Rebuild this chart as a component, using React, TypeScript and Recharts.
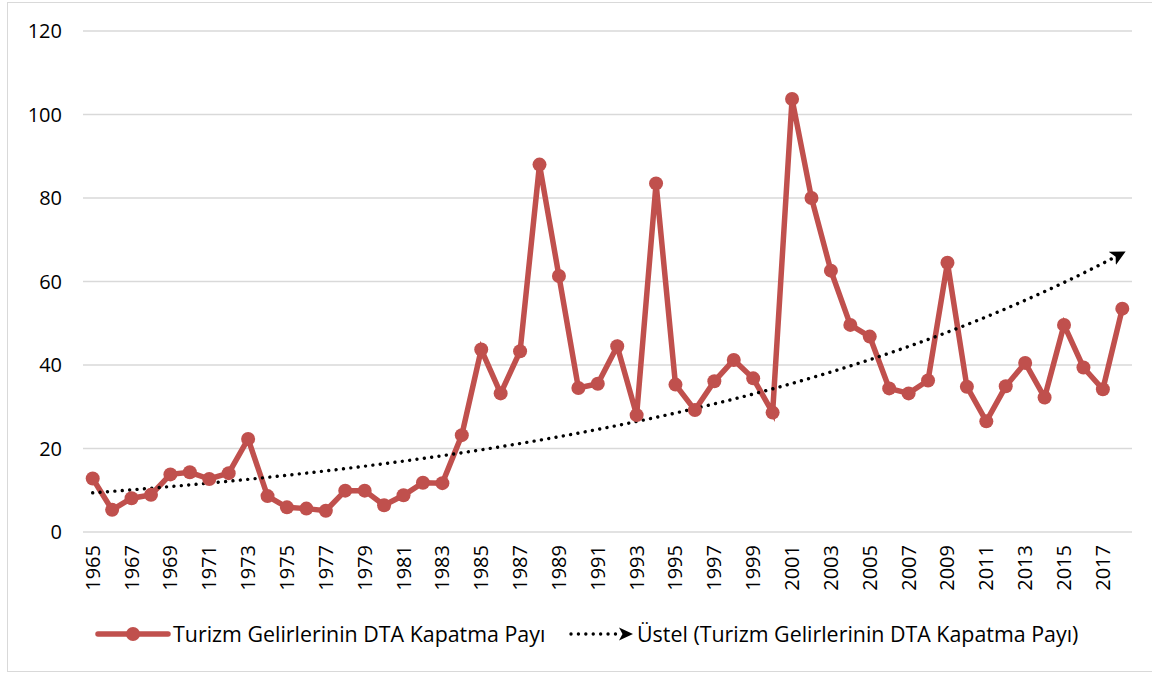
import { ComposedChart, Line, XAxis, YAxis, CartesianGrid } from 'recharts';

const years = [
    1965, 1966, 1967, 1968, 1969, 1970, 1971, 1972, 1973, 1974, 1975, 1976, 1977, 1978, 1979, 1980, 1981, 1982,
    1983, 1984, 1985, 1986, 1987, 1988, 1989, 1990, 1991, 1992, 1993, 1994, 1995, 1996, 1997, 1998, 1999, 2000,
    2001, 2002, 2003, 2004, 2005, 2006, 2007, 2008, 2009, 2010, 2011, 2012, 2013, 2014, 2015, 2016, 2017, 2018,
];

const payValues = [
    12.8, 5.3, 8.1, 8.9, 13.8, 14.3, 12.7, 14.1, 22.3, 8.6, 5.9, 5.6, 5.1, 9.9, 9.9, 6.4, 8.8, 11.8,
    11.7, 23.2, 43.7, 33.2, 43.3, 88.0, 61.3, 34.5, 35.5, 44.5, 28.0, 83.5, 35.3, 29.2, 36.1, 41.2, 36.8, 28.6,
    103.7, 80.0, 62.6, 49.6, 46.8, 34.4, 33.2, 36.3, 64.5, 34.8, 26.5, 34.9, 40.5, 32.2, 49.6, 39.4, 34.2, 53.5,
];

const yTicks = [0, 20, 40, 60, 80, 100, 120];

const seriesName = 'Turizm Gelirlerinin DTA Kapatma Payı';
const trendName = 'Üstel (Turizm Gelirlerinin DTA Kapatma Payı)';

// exponential trend line (least squares on ln y), like the spreadsheet one
function expFit(vals: number[]) {
    const n = vals.length;
    let sx = 0, sy = 0, sxx = 0, sxy = 0;
    vals.forEach((v, i) => {
        const ly = Math.log(v);
        sx += i;
        sy += ly;
        sxx += i * i;
        sxy += i * ly;
    });
    const b = (n * sxy - sx * sy) / (n * sxx - sx * sx);
    const a = (sy - b * sx) / n;
    return vals.map((_, i) => Math.exp(a + b * i));
}

const trendValues = expFit(payValues);

const chartData = years.map((year, i) => ({
    year: String(year),
    pay: payValues[i],
    trend: trendValues[i],
}));

const FONT = '"Open Sans", sans-serif';
const RED = '#C0504D';

function YearTick(props: any) {
    const { x, y, payload } = props;
    return (
        <text
            x={x + 7}
            y={y + 5}
            transform={`rotate(-90, ${x + 7}, ${y + 5})`}
            textAnchor="end"
            fontSize={20}
            fontFamily={FONT}
            fill="#000"
        >
            {payload.value}
        </text>
    );
}

export default function App() {
    return (
        <div style={{ position: 'absolute', left: 0, top: 0, width: 1152, height: 675, background: '#fff' }}>
            <div
                style={{
                    position: 'absolute',
                    left: 7,
                    top: 2,
                    width: 1150,
                    height: 670,
                    border: '1px solid #d9d9d9',
                    boxSizing: 'border-box',
                }}
            />
            <ComposedChart width={1152} height={675} data={chartData} margin={{ top: 31, right: 20, bottom: 0, left: 0 }}>
                <defs>
                    <marker
                        id="trendArrow"
                        viewBox="0 0 12 12"
                        refX="9"
                        refY="6"
                        markerWidth="15"
                        markerHeight="15"
                        markerUnits="userSpaceOnUse"
                        orient="auto"
                    >
                        <path d="M0,0 L12,6 L0,12 L3,6 Z" fill="#000" />
                    </marker>
                </defs>
                <CartesianGrid vertical={false} stroke="#d9d9d9" strokeWidth={1.5} />
                <XAxis
                    dataKey="year"
                    interval={1}
                    axisLine={false}
                    tickLine={false}
                    height={143}
                    padding={{ left: 9.7, right: 9.7 }}
                    tick={<YearTick />}
                />
                <YAxis
                    domain={[0, 120]}
                    ticks={yTicks}
                    axisLine={false}
                    tickLine={false}
                    width={83}
                    tickMargin={15}
                    tick={{ fill: '#000', fontSize: 20, fontFamily: FONT }}
                />
                <Line
                    dataKey="pay"
                    type="linear"
                    stroke={RED}
                    strokeWidth={5.5}
                    dot={{ r: 7, fill: RED, stroke: 'none' }}
                    activeDot={false}
                    isAnimationActive={false}
                />
                <Line
                    dataKey="trend"
                    type="monotone"
                    stroke="#000"
                    strokeWidth={3.4}
                    strokeLinecap="round"
                    strokeDasharray="0.01 7.4"
                    markerEnd="url(#trendArrow)"
                    dot={false}
                    activeDot={false}
                    isAnimationActive={false}
                />
            </ComposedChart>
            <div
                style={{
                    position: 'absolute',
                    top: 619,
                    left: 0,
                    width: 1152,
                    height: 30,
                    fontFamily: FONT,
                    fontSize: 21.4,
                    color: '#000',
                }}
            >
                <svg style={{ position: 'absolute', left: 95, top: 7 }} width={76} height={16}>
                    <line x1={3} y1={8} x2={73} y2={8} stroke={RED} strokeWidth={5.5} strokeLinecap="round" />
                    <circle cx={38} cy={8} r={7} fill={RED} />
                </svg>
                <span style={{ position: 'absolute', left: 173, top: 0, whiteSpace: 'nowrap' }}>{seriesName}</span>
                <svg style={{ position: 'absolute', left: 566, top: 7 }} width={70} height={16}>
                    <line
                        x1={5}
                        y1={8}
                        x2={54}
                        y2={8}
                        stroke="#000"
                        strokeWidth={3.4}
                        strokeLinecap="round"
                        strokeDasharray="0.01 7.4"
                    />
                    <path d="M53,1.5 L67,8 L53,14.5 L56.5,8 Z" fill="#000" />
                </svg>
                <span style={{ position: 'absolute', left: 637, top: 0, whiteSpace: 'nowrap' }}>{trendName}</span>
            </div>
        </div>
    );
}
